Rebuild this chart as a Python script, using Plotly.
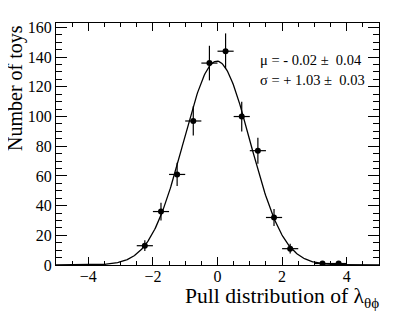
import numpy as np
import plotly.graph_objects as go

bin_centers = [-2.25, -1.75, -1.25, -0.75, -0.25, 0.25, 0.75, 1.25, 1.75, 2.25, 3.25, 3.75]
counts = [13, 36, 61, 97, 136, 144, 100, 77, 32, 11, 1, 1]
bin_half_width = 0.25
fit_mu = -0.02
fit_sigma = 1.03
fit_text = ["μ = - 0.02 ±  0.04", "σ = + 1.03 ±  0.03"]

errs = [np.sqrt(c) for c in counts]
total = sum(counts)
xs = np.linspace(-5, 5, 400)
amp = total * 2 * bin_half_width / (fit_sigma * np.sqrt(2 * np.pi))
ys = amp * np.exp(-0.5 * ((xs - fit_mu) / fit_sigma) ** 2)

font = "Liberation Serif, Times New Roman, DejaVu Serif, serif"
fig = go.Figure()
fig.add_trace(go.Scatter(x=xs, y=ys, mode="lines", line=dict(color="black", width=1.3),
                         showlegend=False, hoverinfo="skip"))
fig.add_trace(go.Scatter(
    x=bin_centers, y=counts, mode="markers",
    marker=dict(color="black", size=6),
    error_y=dict(type="data", array=errs, color="black", thickness=1.2, width=0),
    error_x=dict(type="constant", value=bin_half_width, color="black", thickness=1.2, width=0),
    showlegend=False))

axis_common = dict(showline=True, linecolor="black", linewidth=1, mirror="allticks",
                   ticks="inside", tickcolor="black", showgrid=False, zeroline=False,
                   tickfont=dict(family=font, size=16, color="black"))
fig.update_xaxes(range=[-5, 5], dtick=2, ticklen=8, ticklabelstandoff=-3,
                 minor=dict(dtick=0.5, ticks="inside", ticklen=4, tickcolor="black", showgrid=False),
                 **axis_common)
fig.update_yaxes(range=[0, 163], dtick=20, ticklen=11,
                 minor=dict(dtick=5, ticks="inside", ticklen=6, tickcolor="black", showgrid=False),
                 **axis_common)

fig.add_annotation(x=1.006, y=-0.072, xref="paper", yref="paper", xanchor="right", yanchor="top",
                   text="Pull distribution of λ<sub>θϕ</sub>", showarrow=False,
                   font=dict(family=font, size=21.6, color="black"))
fig.add_annotation(x=-0.127, y=1.0, xref="paper", yref="paper", xanchor="center", yanchor="top",
                   text="Number of toys", textangle=-90, showarrow=False,
                   font=dict(family=font, size=20, color="black"))
for i, t in enumerate(fit_text):
    fig.add_annotation(x=0.625, y=0.848 - i * 0.085, xref="paper", yref="paper",
                       xanchor="left", yanchor="middle", text=t, showarrow=False,
                       font=dict(family=font, size=14.5, color="black"))

# page body has an 8px default margin, so offsets compensate to place the frame
fig.update_layout(width=399, height=316, margin=dict(l=48, r=28, t=11, b=59),
                  plot_bgcolor="white", paper_bgcolor="white")
fig.write_html("out.html")
